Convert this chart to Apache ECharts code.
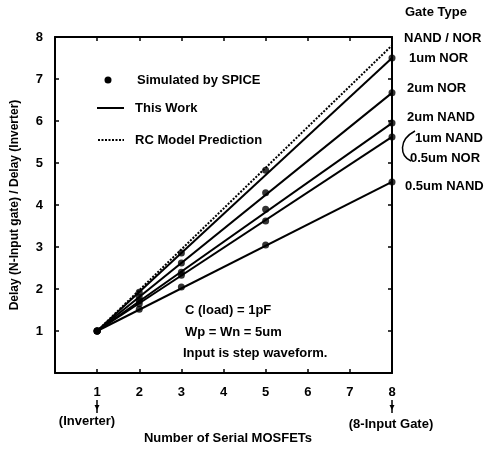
<!DOCTYPE html>
<html>
<head>
<meta charset="utf-8">
<script src="https://cdn.jsdelivr.net/npm/echarts@6/dist/echarts.min.js"></script>
<style>
  html, body { margin: 0; padding: 0; background: #fff; }
  #chart { width: 490px; height: 449px; }
</style>
</head>
<body>
<div id="chart"></div>
<script>
// serial MOSFET counts where SPICE points exist
const spiceN = [1, 2, 3, 5, 8]
// SPICE results per gate type (normalised delay)
const spice1umNor = [1, 1.92, 2.86, 4.83, 7.5]
const spice2umNor = [1, 1.8, 2.62, 4.29, 6.67]
const spice2umNand = [1, 1.72, 2.4, 3.9, 5.95]
const spice1umNand = [1, 1.65, 2.33, 3.62, 5.62]
const spice05umNand = [1, 1.52, 2.05, 3.05, 4.55]

// "This Work" model lines (start / end)
const lineN = [1, 8]
const work1umNor = [1, 7.5]
const work2umNor = [1, 6.67]
const work2umNand = [1, 5.95]
const work1umNand = [1, 5.62]
const work05umNand = [1, 4.55]
// RC model prediction
const rcModel = [1, 7.8]

const axisTicks = [1, 2, 3, 4, 5, 6, 7, 8]
const gateLabels = ['NAND / NOR', '1um NOR', '2um NOR', '2um NAND', '1um NAND', '0.5um NOR', '0.5um NAND']

const FONT = '"Liberation Sans", Arial, sans-serif'

const pairs = function (xs, ys) {
  return xs.map((x, i) => [x, ys[i]])
}

const chart = echarts.init(document.getElementById('chart'))

const spiceAll = []
;[spice1umNor, spice2umNor, spice2umNand, spice1umNand, spice05umNand].forEach((arr) => {
  pairs(spiceN, arr).forEach((p) => spiceAll.push(p))
})

const workLine = function (ys) {
  return {
    type: 'line',
    data: pairs(lineN, ys),
    symbol: 'none',
    lineStyle: {color: '#000', width: 2},
    z: 3,
  }
}

const txt = function (x, y, text, opts) {
  return {
    type: 'text',
    x: x,
    y: y,
    style: Object.assign({
      text: text,
      fill: '#000',
      font: 'bold 13px ' + FONT,
      textVerticalAlign: 'middle',
    }, opts || {}),
  }
}

const baseAxis = {
  type: 'value',
  min: 0,
  max: 8,
  interval: 1,
  axisLine: {onZero: false, lineStyle: {color: '#000', width: 2}},
  axisTick: {inside: true, length: 4, lineStyle: {color: '#000', width: 1.5}},
  splitLine: {show: false},
}

const labelStyle = {
  color: '#000',
  fontWeight: 'bold',
  fontSize: 13,
  fontFamily: FONT,
  formatter: (v) => axisTicks.indexOf(v) >= 0 ? String(v) : '',
}

chart.setOption({
  animation: false,
  backgroundColor: '#fff',
  grid: {left: 55, right: 98, top: 37, bottom: 76},
  xAxis: [
    Object.assign({}, baseAxis, {position: 'bottom', axisLabel: Object.assign({margin: 13}, labelStyle)}),
    Object.assign({}, baseAxis, {position: 'top', axisLabel: {show: false}}),
  ],
  yAxis: [
    Object.assign({}, baseAxis, {position: 'left', axisLabel: Object.assign({margin: 12}, labelStyle)}),
    Object.assign({}, baseAxis, {position: 'right', axisLabel: {show: false}}),
  ],
  series: [
    {
      type: 'line',
      data: pairs(lineN, rcModel),
      symbol: 'none',
      lineStyle: {color: '#000', width: 2, type: [2, 1.5]},
      z: 2,
    },
    workLine(work1umNor),
    workLine(work2umNor),
    workLine(work2umNand),
    workLine(work1umNand),
    workLine(work05umNand),
    {
      type: 'scatter',
      data: spiceAll,
      symbol: 'circle',
      symbolSize: 7,
      itemStyle: {color: '#000'},
      z: 4,
    },
  ],
  graphic: [
    // legend
    {type: 'circle', shape: {cx: 108, cy: 80, r: 3.5}, style: {fill: '#000'}},
    txt(137, 80, 'Simulated by SPICE'),
    {type: 'line', shape: {x1: 97, y1: 108, x2: 124, y2: 108}, style: {stroke: '#000', lineWidth: 2}},
    txt(135, 108, 'This Work'),
    {type: 'line', shape: {x1: 98, y1: 140, x2: 124, y2: 140}, style: {stroke: '#000', lineWidth: 2, lineDash: [2, 1.5]}},
    txt(135, 140, 'RC Model Prediction'),
    // conditions
    txt(185, 310, 'C (load) = 1pF'),
    txt(185, 332, 'Wp = Wn = 5um'),
    txt(183, 353, 'Input is step waveform.'),
    // gate type labels
    txt(405, 12, 'Gate Type'),
    txt(404, 38, gateLabels[0]),
    txt(409, 58, gateLabels[1]),
    txt(407, 88, gateLabels[2]),
    txt(407, 117, gateLabels[3]),
    txt(415, 138, gateLabels[4]),
    txt(410, 158, gateLabels[5]),
    txt(405, 186, gateLabels[6]),
    {type: 'bezierCurve', shape: {x1: 415, y1: 131, cpx1: 398, cpy1: 140, cpx2: 400, cpy2: 156, x2: 411, y2: 161}, style: {stroke: '#000', lineWidth: 1.5, fill: null}},
    // x axis end notes
    {type: 'line', shape: {x1: 97, y1: 400, x2: 97, y2: 413}, style: {stroke: '#000', lineWidth: 1.5}},
    {type: 'polygon', shape: {points: [[94.5, 405], [99.5, 405], [97, 410]]}, style: {fill: '#000'}},
    {type: 'line', shape: {x1: 392, y1: 400, x2: 392, y2: 413}, style: {stroke: '#000', lineWidth: 1.5}},
    {type: 'polygon', shape: {points: [[389.5, 405], [394.5, 405], [392, 410]]}, style: {fill: '#000'}},
    txt(87, 421, '(Inverter)', {textAlign: 'center'}),
    txt(391, 424, '(8-Input Gate)', {textAlign: 'center'}),
    txt(228, 438, 'Number of Serial MOSFETs', {textAlign: 'center'}),
    {
      type: 'text',
      x: 15,
      y: 205,
      rotation: Math.PI / 2,
      style: {
        text: 'Delay (N-Input gate) / Delay (Inverter)',
        fill: '#000',
        font: 'bold 12px ' + FONT,
        textAlign: 'center',
        textVerticalAlign: 'middle',
      },
    },
  ],
})
</script>
</body>
</html>
